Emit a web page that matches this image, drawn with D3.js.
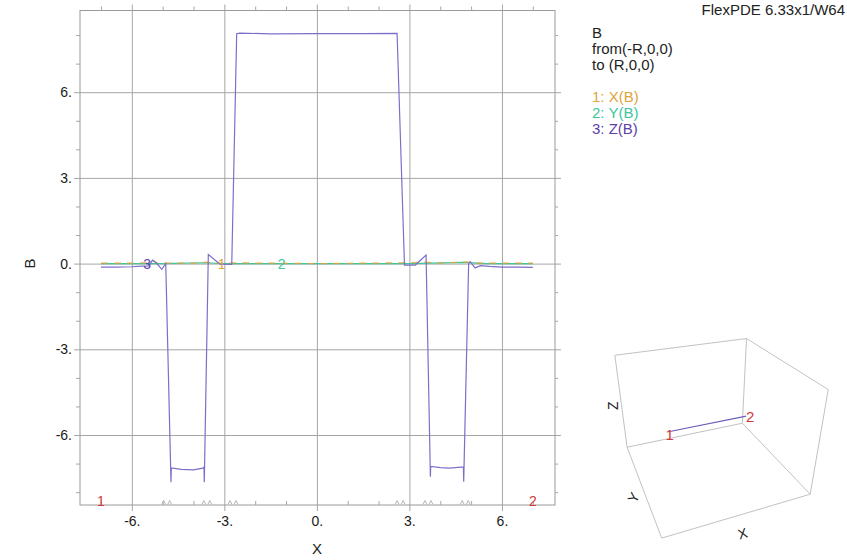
<!DOCTYPE html>
<html><head><meta charset="utf-8">
<script src="https://cdn.jsdelivr.net/npm/d3@7"></script>
<style>
body{margin:0;background:#fff}
text{font-family:"Liberation Sans",Arial,sans-serif}
</style>
</head><body>
<svg id="c" width="847" height="560"></svg>
<script>
// ---------- data ----------
const xTicks = [-6, -3, 0, 3, 6];
const yTicks = [-6, -3, 0, 3, 6];
const xMinor = [-7, -5, -4, -2, -1, 1, 2, 4, 5, 7];
const yMinor = [-8, -7, -5, -4, -2, -1, 1, 2, 4, 5, 7, 8];
const boundaries = [-4.87, -3.57, -2.72, 2.7, 3.6, 4.81];

// 3: Z(B)
const zX = [-7.0,-6.5,-6.0,-5.7,-5.45,-5.33,-5.2,-5.03,-4.9,-4.73,-4.72,-4.4,-4.0,-3.7,-3.66,-3.65,-3.52,-3.14,-2.76,-2.6,-2.5,-1.5,0,1.5,2.6,2.84,3.19,3.54,3.68,3.69,4.0,4.3,4.75,4.76,4.92,4.97,5.13,5.3,5.6,6.0,6.5,7.0];
const zB = [-0.12,-0.12,-0.11,-0.09,-0.08,0.12,0.02,-0.2,0.0,-7.65,-7.15,-7.2,-7.22,-7.16,-7.12,-7.65,0.32,-0.02,-0.03,8.05,8.07,8.04,8.05,8.05,8.06,-0.05,-0.05,0.3,-7.46,-7.1,-7.14,-7.16,-7.12,-7.64,0.0,0.07,-0.15,-0.07,-0.1,-0.12,-0.12,-0.13];
// 1: X(B)
const xbX = [-7,-6,-5.5,-5.33,-5.15,-4.9,-4,-3.6,-3.1,-2.7,-2,-1,0,1,2,2.8,3.5,4.0,4.85,5.2,6,7];
const xbB = [0.02,0.02,0.03,0.12,0.0,0.02,0.02,0.05,0.0,0.03,0.02,0.01,0.0,0.01,0.02,0.03,0.05,0.02,0.06,0.02,0.02,0.02];
// 2: Y(B)
const ybX = [-7,-5,-3.7,-3,-1,1,3,4.75,5.5,7];
const ybB = [0.0,0.0,0.03,0.0,0.0,0.0,0.0,0.04,0.0,0.0];

const legendHead = ["B", "from(-R,0,0)", "to (R,0,0)"];
const legendSeries = ["1: X(B)", "2: Y(B)", "3: Z(B)"];
const seriesColors = ["#e2a23c", "#3cc79c", "#5b42a8"];
const lineColors = ["#e2a23c", "#3cc79c", "#7d6fc8"];
const curveLabels = [{t:"1", x:-3.09}, {t:"2", x:-1.14}, {t:"3", x:-5.5}];

// ---------- layout ----------
const svg = d3.select("#c");
const L = 80, R = 555, T = 10.5, B = 505;
const x = d3.scaleLinear().domain([-7.68, 7.72]).range([L, R]);
const y = d3.scaleLinear().domain([-8.45, 8.86]).range([B, T]);
const gridC = "#a6a6a6";

// grid (major) lines extending beyond frame
const gx = svg.append("g").attr("transform", `translate(0,${B + 6})`)
  .call(d3.axisBottom(x).tickValues(xTicks).tickSize(-(B - T + 12)).tickFormat(""));
const gy = svg.append("g").attr("transform", `translate(${L - 6},0)`)
  .call(d3.axisLeft(y).tickValues(yTicks).tickSize(-(R - L + 12)).tickFormat(""));
[gx, gy].forEach(g => { g.select(".domain").remove(); g.selectAll("line").attr("stroke", gridC); });

// frame
svg.append("rect").attr("x", L).attr("y", T).attr("width", R - L).attr("height", B - T)
  .attr("fill", "none").attr("stroke", "#9a9a9a");

// minor ticks
const mt = [
  svg.append("g").attr("transform", `translate(0,${T})`).call(d3.axisTop(x).tickValues(xMinor).tickSize(4).tickFormat("")),
  svg.append("g").attr("transform", `translate(0,${B})`).call(d3.axisBottom(x).tickValues(xMinor).tickSize(-4).tickFormat("")),
  svg.append("g").attr("transform", `translate(${L},0)`).call(d3.axisLeft(y).tickValues(yMinor).tickSize(4).tickFormat("")),
  svg.append("g").attr("transform", `translate(${R},0)`).call(d3.axisRight(y).tickValues(yMinor).tickSize(3).tickFormat(""))
];
mt.forEach(g => { g.select(".domain").remove(); g.selectAll("line").attr("stroke", gridC); });

// tick labels
const ax = svg.append("g").attr("transform", `translate(0,${B})`)
  .call(d3.axisBottom(x).tickValues(xTicks).tickSize(0).tickPadding(11).tickFormat(d => d + "."));
const ay = svg.append("g").attr("transform", `translate(${L},0)`)
  .call(d3.axisLeft(y).tickValues(yTicks).tickSize(0).tickPadding(8).tickFormat(d => d + "."));
[ax, ay].forEach(g => {
  g.select(".domain").remove();
  g.selectAll("text").attr("font-size", 14).attr("fill", "#1a1a1a").attr("font-family", '"Liberation Sans",Arial,sans-serif');
});

// region boundary markers
svg.append("g").selectAll("path").data(boundaries).join("path")
  .attr("d", d => { const c = x(d); return `M${c-5},${B-0.5} L${c-3},${B-4.5} L${c-1},${B-0.5} M${c+1},${B-0.5} L${c+3},${B-4.5} L${c+5},${B-0.5}`; })
  .attr("fill", "none").attr("stroke", "#b5b5b5").attr("stroke-width", 1);

// curves
const line = d3.line().x(d => x(d[0])).y(d => y(d[1]));
svg.append("path").datum(d3.zip(ybX, ybB)).attr("d", line)
  .attr("fill", "none").attr("stroke", lineColors[1]).attr("stroke-width", 1.2);
svg.append("path").datum(d3.zip(xbX, xbB)).attr("d", line)
  .attr("fill", "none").attr("stroke", lineColors[0]).attr("stroke-width", 1.2).attr("stroke-dasharray", "7,6").attr("opacity", 0.85);
svg.append("path").datum(d3.zip(zX, zB)).attr("d", line)
  .attr("fill", "none").attr("stroke", lineColors[2]).attr("stroke-width", 1.2);

// curve labels
svg.append("g").selectAll("text").data(curveLabels).join("text")
  .attr("x", d => x(d.x)).attr("y", y(0)).attr("dy", "0.35em")
  .attr("text-anchor", "middle").attr("font-size", 14)
  .attr("fill", (d, i) => seriesColors[i]).text(d => d.t);

// endpoints on x axis
svg.append("g").selectAll("text").data([{t:"1", v:-7}, {t:"2", v:7}]).join("text")
  .attr("x", d => x(d.v)).attr("y", B - 4).attr("dy", "0.35em")
  .attr("text-anchor", "middle").attr("font-size", 14).attr("fill", "#d03a3a").text(d => d.t);

// axis titles
svg.append("text").attr("x", x(0)).attr("y", 554).attr("text-anchor", "middle")
  .attr("font-size", 15).attr("fill", "#222").text("X");
svg.append("text").attr("transform", `translate(35,${y(0)}) rotate(-90)`).attr("text-anchor", "middle")
  .attr("font-size", 15).attr("fill", "#222").text("B");

// header
svg.append("text").attr("x", 845).attr("y", 15).attr("text-anchor", "end")
  .attr("font-size", 15).attr("fill", "#222").text("FlexPDE 6.33x1/W64");

// legend
svg.append("g").selectAll("text").data(legendHead).join("text")
  .attr("x", 592).attr("y", (d, i) => 38 + i * 16).attr("font-size", 15).attr("fill", "#222").text(d => d);
svg.append("g").selectAll("text").data(legendSeries).join("text")
  .attr("x", 592).attr("y", (d, i) => 102 + i * 16).attr("font-size", 15)
  .attr("fill", (d, i) => seriesColors[i]).text(d => d);

// ---------- 3D inset ----------
const th = 22 * Math.PI / 180, ph = 30 * Math.PI / 180;
function proj(p) {
  const [px, py, pz] = p;
  const x1 = px * Math.cos(th) - py * Math.sin(th);
  const y1 = px * Math.sin(th) + py * Math.cos(th);
  const d = y1 * Math.cos(ph) - pz * Math.sin(ph);
  const u = y1 * Math.sin(ph) + pz * Math.cos(ph);
  const w = 5 + d;
  return [710.5 + 375 * x1 / w, 423.3 - 375 * u / w];
}
const hz = 0.75;
const C = {
  P1: [-1, -1, -hz], P2: [1, -1, -hz], P3: [-1, 1, -hz], P4: [1, 1, -hz],
  P5: [-1, 1, hz], P6: [1, 1, hz], P7: [1, -1, hz]
};
const edges = [["P5","P6"],["P6","P4"],["P4","P3"],["P3","P5"],["P6","P7"],["P7","P2"],["P2","P4"],["P3","P1"],["P1","P2"]];
svg.append("g").selectAll("line").data(edges).join("line")
  .attr("x1", e => proj(C[e[0]])[0]).attr("y1", e => proj(C[e[0]])[1])
  .attr("x2", e => proj(C[e[1]])[0]).attr("y2", e => proj(C[e[1]])[1])
  .attr("stroke", "#c2c2c2").attr("stroke-width", 1);

const cutA = proj([-0.58, 0, 0]), cutB = proj([0.53, 0, 0]);
svg.append("line").attr("x1", cutA[0]).attr("y1", cutA[1]).attr("x2", cutB[0]).attr("y2", cutB[1])
  .attr("stroke", "#6a5fb8").attr("stroke-width", 1.2);
svg.append("text").attr("x", cutA[0] + 1).attr("y", cutA[1] + 3).attr("dy", "0.35em").attr("text-anchor", "middle")
  .attr("font-size", 15).attr("fill", "#d03a3a").text("1");
svg.append("text").attr("x", cutB[0] + 4).attr("y", cutB[1] + 1).attr("dy", "0.35em").attr("text-anchor", "middle")
  .attr("font-size", 15).attr("fill", "#d03a3a").text("2");

const zl = proj([-1.12, 1, 0]), yl = proj([-1.15, -0.2, -hz]), xl = proj([-0.12, -1.28, -hz]);
svg.append("text").attr("transform", `translate(${zl[0]},${zl[1]}) rotate(-90)`).attr("dy", "0.35em")
  .attr("text-anchor", "middle").attr("font-size", 14).attr("fill", "#222").text("Z");
svg.append("text").attr("transform", `translate(${yl[0]},${yl[1]}) rotate(-62)`).attr("dy", "0.35em")
  .attr("text-anchor", "middle").attr("font-size", 14).attr("fill", "#222").text("Y");
svg.append("text").attr("transform", `translate(${xl[0]},${xl[1]}) rotate(-16)`).attr("dy", "0.35em")
  .attr("text-anchor", "middle").attr("font-size", 14).attr("fill", "#222").text("X");
</script>
</body></html>
